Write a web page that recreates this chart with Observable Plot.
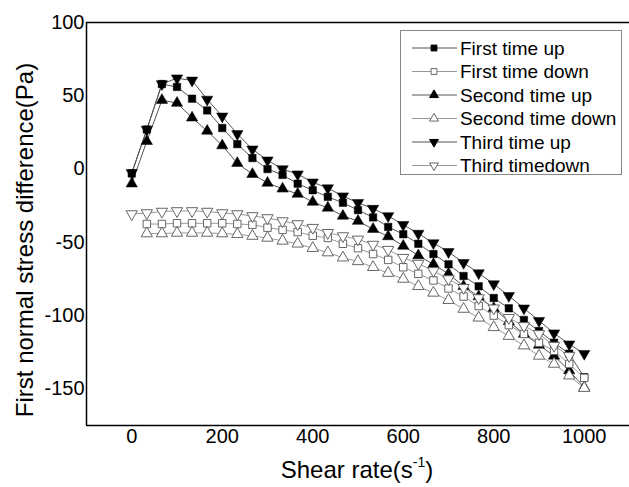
<!DOCTYPE html>
<html><head><meta charset="utf-8">
<script src="https://cdn.jsdelivr.net/npm/d3@7"></script>
<script src="https://cdn.jsdelivr.net/npm/@observablehq/plot@0.6"></script>
<style>
body{margin:0;background:#fff;}
#chart{position:relative;width:629px;height:487px;font-family:"Liberation Sans",Arial,sans-serif;}
#legend{position:absolute;left:400px;top:30px;}
</style></head><body><div id="chart"></div><script>
// ---- data ----
const xs = [0,33.3,66.7,100,133.3,166.7,200,233.3,266.7,300,333.3,366.7,400,433.3,466.7,500,533.3,566.7,600,633.3,666.7,700,733.3,766.7,800,833.3,866.7,900,933.3,966.7,1000];
const firstUp = [-3,27,58,56,48,40,28,17,7.5,0,-4,-10,-14.5,-19,-23,-28,-33,-39.5,-44.5,-51,-58,-65,-73,-80,-88,-95,-103,-110.5,-118.5,-126,-142];
const secondUp = [-10,19,47,45,35,26,16,4,-3.5,-9.5,-13.5,-17,-22.5,-26.5,-32,-35.5,-41,-46,-52.5,-59,-65,-71.5,-80,-87,-95,-104,-112.5,-120,-127.5,-137.5,-149];
const thirdUp = [-2.5,27,58,62,60.5,47.5,36,24,13.5,6,0,-3.5,-9,-13,-18.5,-23,-27,-32,-38,-44,-50.5,-56.5,-64,-71,-78.5,-86.5,-95,-103.5,-112,-119.5,-126];
const firstDown = [-37.5,-37.5,-37,-37,-37,-37,-37.5,-38,-40,-41.5,-43,-45.5,-47,-51,-54,-58,-62,-67,-71.5,-76,-81.5,-87,-93.5,-100,-106.5,-112.5,-118.5,-124,-133,-142.5];
const secondDown = [-44,-44,-43.6,-43.6,-43.6,-44,-44.5,-45.7,-47,-49,-51,-54,-57,-60.5,-63,-67,-71,-75,-80,-84.5,-89.5,-95.5,-101.5,-108,-114,-120.5,-127.5,-133,-141,-149.5];
const thirdDown = [-30.7,-30,-29,-28.6,-28.6,-29,-30,-30.7,-32,-33.4,-35.5,-37.5,-40,-43.5,-45.7,-48,-51.5,-55,-60.5,-64.5,-69.5,-75,-81,-88,-95,-101.5,-107,-112.5,-120.5,-127.5];
const seriesNames = ["First time up","First time down","Second time up","Second time down","Third time up","Third timedown"];
const xTicks = [0,200,400,600,800,1000];
const yTicks = [-150,-100,-50,0,50,100];
const xDomain = [-100,1100];
const yDomain = [-175,100];
const xTitle = "Shear rate(s";
const xTitleSup = "-1";
const yTitle = "First normal stress difference(Pa)";

// ---- symbols ----
const triangleDown = {
  draw(context, size) {
    const y = -Math.sqrt(size / (Math.sqrt(3) * 3));
    context.moveTo(0, -y * 2);
    context.lineTo(-Math.sqrt(3) * y, y);
    context.lineTo(Math.sqrt(3) * y, y);
    context.closePath();
  }
};
const series = [
  {name: seriesNames[0], xs: xs, ys: firstUp, symbol: "square", filled: true},
  {name: seriesNames[1], xs: xs.slice(1), ys: firstDown, symbol: "square", filled: false},
  {name: seriesNames[2], xs: xs, ys: secondUp, symbol: "triangle", filled: true},
  {name: seriesNames[3], xs: xs.slice(1), ys: secondDown, symbol: "triangle", filled: false},
  {name: seriesNames[4], xs: xs, ys: thirdUp, symbol: triangleDown, filled: true},
  {name: seriesNames[5], xs: xs.slice(0, thirdDown.length), ys: thirdDown, symbol: triangleDown, filled: false}
];
series.forEach(s => s.data = s.ys.map((y, i) => ({x: s.xs[i], y})));

const marks = [];
// frame
marks.push(Plot.ruleX([xDomain[0]], {stroke: "black", strokeWidth: 1.5}));
marks.push(Plot.ruleY([yDomain[0], yDomain[1]], {stroke: "black", strokeWidth: 1.5}));
// lines
for (const s of series) {
  marks.push(Plot.line(s.data, {x: "x", y: "y", stroke: s.filled ? "#555" : "#999", strokeWidth: 1}));
}
// filled markers
for (const s of series.filter(s => s.filled)) {
  marks.push(Plot.dot(s.data, {x: "x", y: "y", symbol: s.symbol, r: 4.2, fill: "black", stroke: "black", strokeWidth: 0.5}));
}
// hollow markers
for (const s of series.filter(s => !s.filled)) {
  marks.push(Plot.dot(s.data, {x: "x", y: "y", symbol: s.symbol, r: 4.2, fill: "white", stroke: "#666", strokeWidth: 1}));
}

const chart = Plot.plot({
  width: 629, height: 487,
  marginLeft: 86, marginRight: 0, marginTop: 22, marginBottom: 62,
  style: {fontSize: "20px", fontFamily: "'Liberation Sans', Arial, sans-serif", background: "white", overflow: "visible", color: "black"},
  x: {domain: xDomain, ticks: xTicks, tickSize: 0, tickPadding: 3, tickFormat: d => String(d), label: null},
  y: {domain: yDomain, ticks: yTicks, tickSize: 0, tickPadding: 2, tickFormat: d => String(d), label: null},
  marks
});
const root = document.getElementById("chart");
root.appendChild(chart);

// axis titles
const svg = d3.select(chart);
const xt = svg.append("text")
  .attr("x", 357).attr("y", 478)
  .attr("text-anchor", "middle")
  .attr("font-size", 24).attr("fill", "black")
  .attr("font-family", "'Liberation Sans', Arial, sans-serif");
xt.append("tspan").text(xTitle);
xt.append("tspan").attr("font-size", 14).attr("dy", -11).text(xTitleSup);
xt.append("tspan").attr("dy", 11).text(")");
svg.append("text")
  .attr("transform", "translate(33,240) rotate(-90)")
  .attr("text-anchor", "middle")
  .attr("font-size", 24).attr("fill", "black")
  .attr("font-family", "'Liberation Sans', Arial, sans-serif")
  .text(yTitle);

// legend
const lw = 222, lh = 145;
const leg = d3.select(root).append("div").attr("id", "legend")
  .append("svg").attr("width", lw).attr("height", lh);
leg.append("rect").attr("x", 0.5).attr("y", 0.5).attr("width", lw - 1).attr("height", lh - 1)
  .attr("fill", "white").attr("stroke", "#888").attr("stroke-width", 1);
series.forEach((s, i) => {
  const cy = 18 + i * 23.5;
  const g = leg.append("g").attr("transform", `translate(0,${cy})`);
  g.append("line").attr("x1", 12).attr("x2", 57).attr("y1", 0).attr("y2", 0)
    .attr("stroke", s.filled ? "#555" : "#999").attr("stroke-width", 1);
  const sym = s.symbol === "square" ? d3.symbolSquare : s.symbol === "triangle" ? d3.symbolTriangle : triangleDown;
  g.append("path").attr("transform", "translate(34,0)")
    .attr("d", d3.symbol(sym, 34)())
    .attr("fill", s.filled ? "black" : "white")
    .attr("stroke", s.filled ? "black" : "#666").attr("stroke-width", 1);
  g.append("text").attr("x", 60).attr("y", 0).attr("dy", "0.35em")
    .attr("font-size", 19).attr("fill", "black")
    .attr("font-family", "'Liberation Sans', Arial, sans-serif")
    .text(s.name);
});
</script></body></html>
